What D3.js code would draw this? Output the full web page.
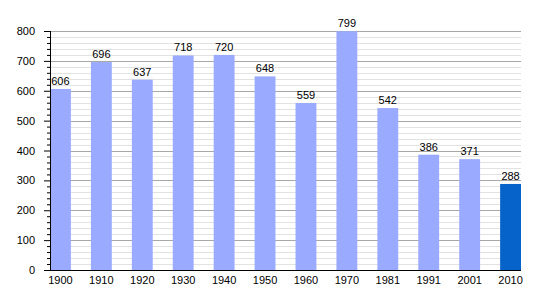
<!DOCTYPE html>
<html>
<head>
<meta charset="utf-8">
<script src="https://cdn.jsdelivr.net/npm/d3@7"></script>
<style>
  body { margin: 0; background: #fff; }
  text { font-family: "Liberation Sans", Arial, sans-serif; font-size: 11px; fill: #000; }
</style>
</head>
<body>
<svg width="550" height="300"></svg>
<script>
var years = ["1900", "1910", "1920", "1930", "1940", "1950", "1960", "1970", "1981", "1991", "2001", "2010"];
var population = [606, 696, 637, 718, 720, 648, 559, 799, 542, 386, 371, 288];
var yTicks = [0, 100, 200, 300, 400, 500, 600, 700, 800];

var svg = d3.select("svg");
var plotLeft = 50, plotRight = 521, plotTop = 31, plotBottom = 270;

var x = d3.scaleBand()
    .domain(years)
    .range([plotLeft, plotRight])
    .paddingInner(0.49)
    .paddingOuter(0)
    .align(0);

var y = d3.scaleLinear().domain([0, 800]).range([plotBottom, plotTop]);

// minor grid lines every 20
var minor = d3.range(20, 801, 20).filter(function(v) { return v % 100 !== 0; });
svg.selectAll(".minor")
    .data(minor)
    .enter().append("line")
    .attr("x1", plotLeft).attr("x2", plotRight)
    .attr("y1", function(d) { return Math.round(y(d)) + 0.5; })
    .attr("y2", function(d) { return Math.round(y(d)) + 0.5; })
    .attr("stroke", "#e2e2e2");

svg.selectAll(".major")
    .data(yTicks.slice(1))
    .enter().append("line")
    .attr("x1", plotLeft).attr("x2", plotRight)
    .attr("y1", function(d) { return Math.round(y(d)) + 0.5; })
    .attr("y2", function(d) { return Math.round(y(d)) + 0.5; })
    .attr("stroke", "#a8a8a8");

// bars
svg.selectAll(".bar")
    .data(population)
    .enter().append("rect")
    .attr("x", function(d, i) { return x(years[i]); })
    .attr("width", x.bandwidth())
    .attr("y", function(d) { return y(d); })
    .attr("height", function(d) { return plotBottom - y(d); })
    .attr("fill", function(d, i) { return i === years.length - 1 ? "#0563c9" : "#99aaff"; });

// value labels
svg.selectAll(".val")
    .data(population)
    .enter().append("text")
    .attr("x", function(d, i) { return x(years[i]) + x.bandwidth() / 2; })
    .attr("y", function(d) { return y(d) - 4; })
    .attr("text-anchor", "middle")
    .text(function(d) { return d; });

// y axis with minor ticks
var yAxisMinor = d3.axisLeft(y).tickValues(minor).tickSize(3).tickFormat("");
svg.append("g").attr("transform", "translate(" + plotLeft + ",0)").call(yAxisMinor)
    .call(function(g) { g.select(".domain").remove(); g.selectAll("line").attr("stroke", "#000"); });

var yAxis = d3.axisLeft(y).tickValues(yTicks).tickSize(6).tickPadding(9);
svg.append("g").attr("transform", "translate(" + plotLeft + ",0)").call(yAxis)
    .call(function(g) {
      g.select(".domain").attr("d", "M0.5," + plotTop + "V" + plotBottom).attr("stroke", "#000");
      g.selectAll("line").attr("stroke", "#000");
      g.selectAll("text").style("font-size", "11px").style("font-family", "Liberation Sans, Arial, sans-serif");
    });

// x axis
svg.append("line")
    .attr("x1", plotLeft - 6).attr("x2", plotRight)
    .attr("y1", plotBottom + 0.5).attr("y2", plotBottom + 0.5)
    .attr("stroke", "#000");

svg.selectAll(".xl")
    .data(years)
    .enter().append("text")
    .attr("x", function(d) { return x(d) + x.bandwidth() / 2; })
    .attr("y", plotBottom + 14)
    .attr("text-anchor", "middle")
    .text(function(d) { return d; });
</script>
</body>
</html>
